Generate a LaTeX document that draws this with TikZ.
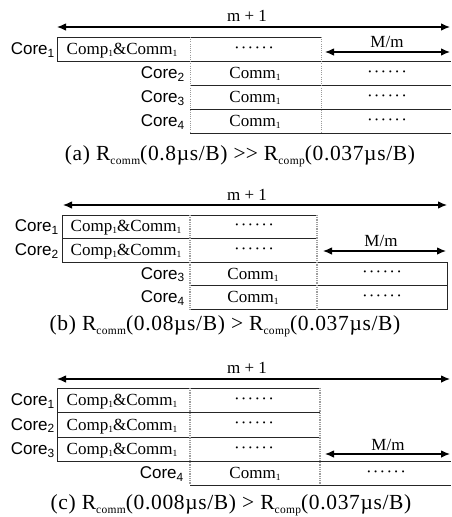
\documentclass[tikz,border=0pt]{standalone}
\usepackage{fontspec}
\setmainfont{Liberation Serif}
\newfontfamily\labelfont{Liberation Sans}
\newfontfamily\capfont[LetterSpace=3,Ligatures=NoCommon]{Liberation Serif}
\usetikzlibrary{arrows.meta}

% six raised dots used as a filler in the cells
\newcommand{\dotrun}{\raisebox{1.5pt}{\textperiodcentered\kern1.2pt\textperiodcentered\kern1.2pt\textperiodcentered\kern1.2pt\textperiodcentered\kern1.2pt\textperiodcentered\kern1.2pt\textperiodcentered}}
% small lowered index in the cell texts
\newcommand{\idx}[1]{\raisebox{-2pt}{\fontsize{9.5}{9.5}\selectfont #1}}
% small lowered subscript for the rate symbols
\newcommand{\lowsub}[1]{\raisebox{-0.2em}{\fontsize{11.5}{11.5}\selectfont #1}}

\tikzset{
  cell/.style={line width=0.9pt, draw=black!85},
  thindiv/.style={line width=1pt, draw=black!40, dash pattern=on 1pt off 1.2pt},
  thickdiv/.style={line width=2.4pt, draw=black!38, dash pattern=on 1pt off 0.8pt},
  span/.style={line width=1.1pt, {Latex[length=9pt,width=7.5pt]}-{Latex[length=9pt,width=7.5pt]}},
  txt/.style={font=\fontsize{17}{17}\selectfont, inner sep=0pt, anchor=base},
  corelbl/.style={font=\labelfont\fontsize{17}{17}\selectfont, inner sep=0pt, anchor=base east},
  caption/.style={font=\capfont\fontsize{21.5}{21.5}\selectfont, inner sep=0pt, anchor=base},
}

\begin{document}
\begin{tikzpicture}[x=1pt,y=-1pt]
\useasboundingbox (0,0) rectangle (451,517);

% ---------------- (a) ----------------
\draw[cell] (321,37) -- (57,37) -- (57,61) -- (451,61);
\draw[cell] (190,85) -- (451,85);
\draw[cell] (190,109) -- (451,109);
\draw[cell] (190,133) -- (451,133);
\draw[thindiv] (190,37) -- (190,133);
\draw[thindiv] (321,37) -- (321,133);

\coordinate (a-ml) at (57,27);   \coordinate (a-mr) at (450,27);
\draw[span] (a-ml) -- (a-mr);
\node[txt] (a-mtxt) at (247,21) {m + 1};
\coordinate (a-sl) at (325,52);  \coordinate (a-sr) at (450,52);
\draw[span] (a-sl) -- (a-sr);
\node[txt] (a-stxt) at (387,47) {M/m};

\node[corelbl] (a-c1) at (55,54.5) {Core\textsubscript{1}};
\node[txt] (a-cc1) at (122,54.5) {Comp\idx{1}\&Comm\idx{1}};
\node[txt] (a-d1) at (254,54.5) {\dotrun};

\node[corelbl] (a-c2) at (185,78.5) {Core\textsubscript{2}};
\node[txt] (a-k2) at (255,78.5) {Comm\idx{1}};
\node[txt] (a-e2) at (387,78.5) {\dotrun};

\node[corelbl] (a-c3) at (185,102.5) {Core\textsubscript{3}};
\node[txt] (a-k3) at (255,102.5) {Comm\idx{1}};
\node[txt] (a-e3) at (387,102.5) {\dotrun};

\node[corelbl] (a-c4) at (185,126.5) {Core\textsubscript{4}};
\node[txt] (a-k4) at (255,126.5) {Comm\idx{1}};
\node[txt] (a-e4) at (387,126.5) {\dotrun};

\node[caption] (a-cap) at (240,160.5) {(a) R\lowsub{comm}(0.8µs/B) >\kern0pt> R\lowsub{comp}(0.037µs/B)};

% ---------------- (b) ----------------
\draw[cell] (317,215) -- (62,215) -- (62,262) -- (447,262) -- (447,309) -- (190,309);
\draw[cell] (62,238) -- (317,238);
\draw[cell] (190,285) -- (447,285);
\draw[thickdiv] (190,215) -- (190,309);
\draw[thickdiv] (317,215) -- (317,309);

\coordinate (b-ml) at (63,205);  \coordinate (b-mr) at (447,205);
\draw[span] (b-ml) -- (b-mr);
\node[txt] (b-mtxt) at (247,200.5) {m + 1};
\coordinate (b-sl) at (323,251); \coordinate (b-sr) at (446,251);
\draw[span] (b-sl) -- (b-sr);
\node[txt] (b-stxt) at (381,246.5) {M/m};

\node[corelbl] (b-c1) at (59,231.5) {Core\textsubscript{1}};
\node[txt] (b-cc1) at (126,231.5) {Comp\idx{1}\&Comm\idx{1}};
\node[txt] (b-d1) at (254,231.5) {\dotrun};

\node[corelbl] (b-c2) at (59,255.5) {Core\textsubscript{2}};
\node[txt] (b-cc2) at (126,255.5) {Comp\idx{1}\&Comm\idx{1}};
\node[txt] (b-d2) at (254,255.5) {\dotrun};

\node[corelbl] (b-c3) at (185,279) {Core\textsubscript{3}};
\node[txt] (b-k3) at (253,279) {Comm\idx{1}};
\node[txt] (b-e3) at (382,279) {\dotrun};

\node[corelbl] (b-c4) at (185,302.5) {Core\textsubscript{4}};
\node[txt] (b-k4) at (253,302.5) {Comm\idx{1}};
\node[txt] (b-e4) at (382,302.5) {\dotrun};

\node[caption] (b-cap) at (225,330.5) {(b) R\lowsub{comm}(0.08µs/B) > R\lowsub{comp}(0.037µs/B)};

% ---------------- (c) ----------------
\draw[cell] (320,388) -- (57,388) -- (57,461) -- (451,461);
\draw[cell] (57,412) -- (320,412);
\draw[cell] (57,437) -- (320,437);
\draw[cell] (190,485) -- (451,485);
\draw[thickdiv] (190,388) -- (190,485);
\draw[thickdiv] (320,388) -- (320,485);

\coordinate (c-ml) at (57,379);  \coordinate (c-mr) at (450,379);
\draw[span] (c-ml) -- (c-mr);
\node[txt] (c-mtxt) at (247,373) {m + 1};
\coordinate (c-sl) at (325,454); \coordinate (c-sr) at (450,454);
\draw[span] (c-sl) -- (c-sr);
\node[txt] (c-stxt) at (388,450) {M/m};

\node[corelbl] (c-c1) at (55,405.5) {Core\textsubscript{1}};
\node[txt] (c-cc1) at (122,405.5) {Comp\idx{1}\&Comm\idx{1}};
\node[txt] (c-d1) at (254,405.5) {\dotrun};

\node[corelbl] (c-c2) at (55,430) {Core\textsubscript{2}};
\node[txt] (c-cc2) at (122,430) {Comp\idx{1}\&Comm\idx{1}};
\node[txt] (c-d2) at (254,430) {\dotrun};

\node[corelbl] (c-c3) at (55,454.5) {Core\textsubscript{3}};
\node[txt] (c-cc3) at (122,454.5) {Comp\idx{1}\&Comm\idx{1}};
\node[txt] (c-d3) at (254,454.5) {\dotrun};

\node[corelbl] (c-c4) at (184,478.5) {Core\textsubscript{4}};
\node[txt] (c-k4) at (255,478.5) {Comm\idx{1}};
\node[txt] (c-e4) at (386,478.5) {\dotrun};

\node[caption] (c-cap) at (231,509) {(c) R\lowsub{comm}(0.008µs/B) > R\lowsub{comp}(0.037µs/B)};
\end{tikzpicture}
\end{document}
